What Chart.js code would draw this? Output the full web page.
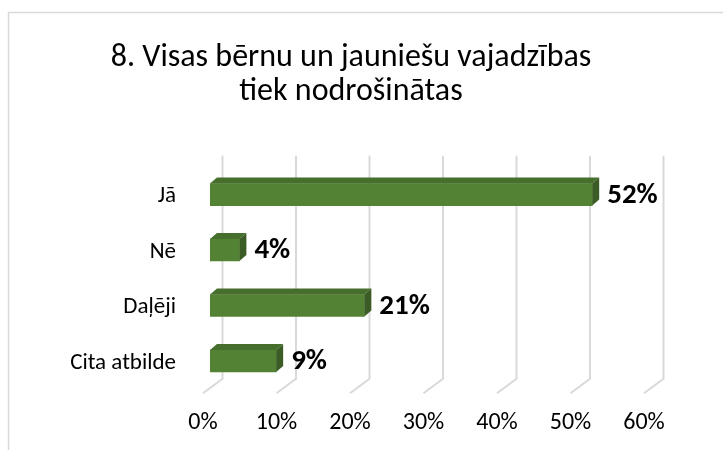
<!DOCTYPE html>
<html>
<head>
<meta charset="utf-8">
<script src="https://cdn.jsdelivr.net/npm/chart.js@4"></script>
<style>
    body { margin: 0; background: #fff; }
    #wrap { width: 723px; height: 450px; }
</style>
</head>
<body>
<div id="wrap"><canvas id="grafica"></canvas></div>
<script>
const categorias = ['Jā', 'Nē', 'Daļēji', 'Cita atbilde'];
const valores = [52, 4, 21, 9];
const ticksX = [0, 10, 20, 30, 40, 50, 60];
const titulo = ['8. Visas bērnu un jauniešu vajadzības', 'tiek nodrošinātas'];

const FONT = 'Carlito, Lato, "Open Sans", sans-serif';
const VERDE = '#548235';
const VERDE_TOP = '#466e2c';
const VERDE_LADO = '#3b5d25';
const DX = 7, DY = 6; // profundidad 3D

// marco gris del gráfico
const marco = {
    id: 'marco',
    beforeDraw(chart) {
        const ctx = chart.ctx;
        ctx.save();
        ctx.fillStyle = '#fff';
        ctx.fillRect(0, 0, chart.width, chart.height);
        ctx.strokeStyle = '#d9d9d9';
        ctx.lineWidth = 1.5;
        ctx.beginPath();
        ctx.moveTo(8.5, chart.height);
        ctx.lineTo(8.5, 12.5);
        ctx.lineTo(chart.width, 12.5);
        ctx.stroke();
        ctx.restore();
    }
};

// lineas de la pared del fondo + piso en perspectiva
const rejilla3d = {
    id: 'rejilla3d',
    beforeDatasetsDraw(chart) {
        const { ctx, chartArea, scales } = chart;
        ctx.save();
        ctx.strokeStyle = '#d9d9d9';
        ctx.lineWidth = 2;
        ticksX.forEach(v => {
            const px = scales.x.getPixelForValue(v);
            ctx.beginPath();
            ctx.moveTo(px + 12.5, chartArea.top - 11);
            ctx.lineTo(px + 12.5, chartArea.bottom - 10);
            ctx.lineTo(px - 7, chartArea.bottom + 4.5);
            ctx.stroke();
        });
        ctx.restore();
    }
};

// caras superior y lateral de cada barra, y etiquetas
const barras3d = {
    id: 'barras3d',
    afterDatasetsDraw(chart) {
        const ctx = chart.ctx;
        const meta = chart.getDatasetMeta(0);
        ctx.save();
        meta.data.forEach((bar, i) => {
            const x0 = bar.base, x1 = bar.x;
            const top = bar.y - bar.height / 2, bottom = bar.y + bar.height / 2;

            ctx.fillStyle = VERDE_TOP;
            ctx.beginPath();
            ctx.moveTo(x0, top);
            ctx.lineTo(x0 + DX, top - DY);
            ctx.lineTo(x1 + DX, top - DY);
            ctx.lineTo(x1, top);
            ctx.closePath();
            ctx.fill();

            ctx.fillStyle = VERDE_LADO;
            ctx.beginPath();
            ctx.moveTo(x1, top);
            ctx.lineTo(x1 + DX, top - DY);
            ctx.lineTo(x1 + DX, bottom - DY);
            ctx.lineTo(x1, bottom);
            ctx.closePath();
            ctx.fill();

            ctx.fillStyle = '#000';
            ctx.font = 'bold 29px ' + FONT;
            ctx.textAlign = 'left';
            ctx.textBaseline = 'middle';
            ctx.fillText(valores[i] + '%', x1 + 15, bar.y + 1);
        });
        ctx.restore();
    }
};

new Chart(document.getElementById('grafica'), {
    type: 'bar',
    data: {
        labels: categorias,
        datasets: [{ data: valores, backgroundColor: VERDE, barThickness: 22 }]
    },
    options: {
        indexAxis: 'y',
        responsive: true,
        maintainAspectRatio: false,
        animation: false,
        layout: { padding: { left: 8, right: 29, top: 0, bottom: 0 } },
        plugins: {
            legend: { display: false },
            tooltip: { enabled: false },
            title: {
                display: true,
                text: titulo,
                color: '#000',
                font: { family: FONT, size: 32, weight: 'normal', lineHeight: 1.06 },
                padding: { top: 41, bottom: 58 }
            }
        },
        scales: {
            x: {
                min: 0, max: 60,
                grid: { display: false, drawTicks: false },
                border: { display: false },
                ticks: {
                    stepSize: 10,
                    padding: 20,
                    labelOffset: -7,
                    color: '#000',
                    font: { family: FONT, size: 24 },
                    callback: v => v + '%'
                },
                afterFit: s => { s.height = 61.3; }
            },
            y: {
                grid: { display: false, drawTicks: false },
                border: { display: false },
                ticks: {
                    padding: 34,
                    labelOffset: 2,
                    color: '#000',
                    font: { family: FONT, size: 23 }
                },
                afterFit: s => { s.width = 202; }
            },
            relleno: {
                type: 'linear',
                position: 'right',
                grid: { display: false, drawTicks: false },
                border: { display: false },
                ticks: { display: false },
                afterFit: s => { s.width = 43; }
            }
        }
    },
    plugins: [marco, rejilla3d, barras3d]
});
</script>
</body>
</html>
